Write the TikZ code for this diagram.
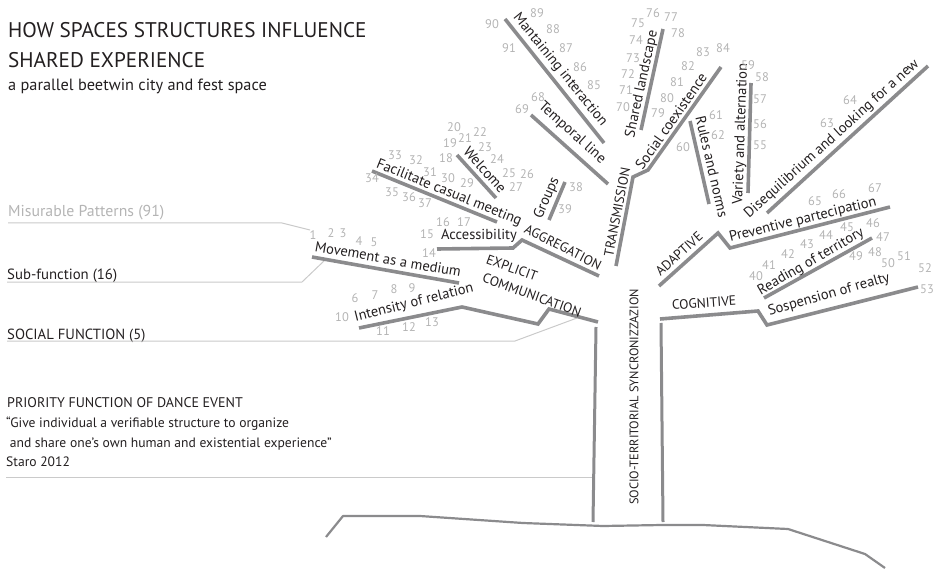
\documentclass[tikz,border=0pt]{standalone}
\usepackage{fontspec}
\setmainfont{PT Sans}
\definecolor{branchgray}{HTML}{8B8B8D}
\definecolor{leadgray}{HTML}{CACACA}
\definecolor{numgray}{HTML}{B4B4B4}
\definecolor{ink}{HTML}{231F20}
\newcommand{\fs}[1]{\fontsize{#1}{#1}\selectfont}
\tikzset{
  branch/.style={draw=branchgray, line width=3.6pt},
  trunkline/.style={draw=branchgray, line width=3pt},
  ground/.style={draw=branchgray, line width=2.2pt, line join=round},
  leader/.style={draw=leadgray, line width=1pt},
  lbl/.style={font=\fs{14.5}, text=ink, inner sep=0pt},
  fnlbl/.style={font=\fs{13.5}, text=ink, inner sep=0pt},
  num/.style={font=\fs{12.5}, text=numgray, inner sep=0pt},
  side/.style={anchor=base west, inner sep=0pt, text=ink},
}
\begin{document}
\begin{tikzpicture}[x=1pt, y=-1pt]
\useasboundingbox (0,0) rectangle (933,569);

% ---------- headings and legend ----------
\node[side, font=\fs{21.2}] (t1) at (8,38) {HOW SPACES STRUCTURES INFLUENCE};
\node[side, font=\fs{21.2}] (t2) at (8,68) {SHARED EXPERIENCE};
\node[side, font=\fs{16.3}] (t3) at (8,91) {a parallel beetwin city and fest space};
\node[side, font=\fs{15.8}, text=numgray] (lgA) at (8,217) {Misurable Patterns (91)};
\node[side, font=\fs{14.8}] (lgB) at (7,279) {Sub-function (16)};
\node[side, font=\fs{14.7}] (lgC) at (7,339) {SOCIAL FUNCTION (5)};
\node[side, font=\fs{14}] (pr1) at (7,407) {PRIORITY FUNCTION OF DANCE EVENT};
\node[side, font=\fs{13.6}] (pr2) at (6,427) {“Give individual a verifiable structure to organize};
\node[side, font=\fs{13.6}] (pr3) at (6,447) {\ and share one’s own human and existential experience”};
\node[side, font=\fs{13.6}] (pr4) at (6,466) {Staro 2012};

% ---------- key points of the tree ----------
\coordinate (tlT) at (596,327); \coordinate (tlB) at (593,522);
\coordinate (trT) at (661,323); \coordinate (trB) at (663,522);

\coordinate (e0) at (598,322); \coordinate (e1) at (549,309);
\coordinate (e2) at (538,324); \coordinate (e3) at (462,307);
\coordinate (e4) at (359,328);
\coordinate (m1) at (312,257); \coordinate (m2) at (459,283);

\coordinate (a0) at (599,276); \coordinate (a1) at (522,240);
\coordinate (a2) at (513,248); \coordinate (a3) at (437,249);
\coordinate (f1) at (372,171); \coordinate (f2) at (497,222);
\coordinate (w1) at (457,155); \coordinate (w2) at (496,198);
\coordinate (g1) at (565,182); \coordinate (g2) at (549,220);

\coordinate (s0) at (616,266); \coordinate (s1) at (633,177);
\coordinate (s2) at (648,170); \coordinate (s3) at (721,67);
\coordinate (tp1) at (531,115); \coordinate (tp2) at (608,184);
\coordinate (mi1) at (505,19); \coordinate (mi2) at (604,143);
\coordinate (sl1) at (663,29); \coordinate (sl2) at (641,130);

\coordinate (d0) at (659,286); \coordinate (d1) at (718,233);
\coordinate (d2) at (730,248); \coordinate (d3) at (890,207);
\coordinate (rn1) at (690,121); \coordinate (rn2) at (709,204);
\coordinate (va1) at (751,83); \coordinate (va2) at (748,193);
\coordinate (di1) at (767,213); \coordinate (di2) at (928,66);

\coordinate (c0) at (660,319); \coordinate (c1) at (758,311);
\coordinate (c2) at (767,325); \coordinate (c3) at (918,287);
\coordinate (rt1) at (764,298); \coordinate (rt2) at (872,238);

% ---------- legend leaders ----------
\draw[leader] (8,223) -- (282,223) -- (310,230);
\draw[leader] (7,282) -- (302,282) -- (325,260);
\draw[leader] (7,341) -- (515,341) -- (577,318);
\draw[leader] (6,477) -- (tlB |- 0,477);

% ---------- trunk and ground ----------
\draw[trunkline] (tlT) -- (tlB);
\draw[trunkline] (trT) -- (trB);
\draw[ground] (326,537) -- (343,516) -- (420,516) -- (523,523) -- (603,526)
  -- (662,525) -- (703,525) -- (788,529) -- (865,554) -- (885,568);

% ---------- branches ----------
\draw[branch] (e0) -- (e1) -- (e2) -- (e3) -- (e4);
\draw[branch] (m1) -- (m2);
\draw[branch] (a0) -- (a1) -- (a2) -- (a3);
\draw[branch] (f1) -- (f2);
\draw[branch] (w1) -- (w2);
\draw[branch] (g1) -- (g2);
\draw[branch] (s0) -- (s1) -- (s2) -- (s3);
\draw[branch] (tp1) -- (tp2);
\draw[branch] (mi1) -- (mi2);
\draw[branch] (sl1) -- (sl2);
\draw[branch] (d0) -- (d1) -- (d2) -- (d3);
\draw[branch] (rn1) -- (rn2);
\draw[branch] (va1) -- (va2);
\draw[branch] (di1) -- (di2);
\draw[branch] (c0) -- (c1) -- (c2) -- (c3);
\draw[branch] (rt1) -- (rt2);

% ---------- branch labels ----------
\node[fnlbl, rotate=90, font=\fs{12.4}] (socio) at (634,397) {SOCIO-TERRITORIAL SYNCRONIZZAZION};
\node[fnlbl, rotate=-20] (expl) at (512,268) {EXPLICIT};
\node[fnlbl, rotate=-20] (comm) at (532,295) {COMMUNICATION};
\node[fnlbl, rotate=-27] (aggr) at (563,247) {AGGREGATION};
\node[fnlbl, rotate=79] (trans) at (617,212) {TRANSMISSION};
\node[fnlbl, rotate=42] (adapt) at (679,254) {ADAPTIVE};
\node[fnlbl, rotate=4] (cogn) at (704,303) {COGNITIVE};

\node[lbl, rotate=-10] (mov) at (388,259) {Movement as a medium};
\node[lbl, rotate=14] (inten) at (414,303) {Intensity of relation};
\node[lbl] (acc) at (479,236) {Accessibility};
\node[lbl, rotate=-22] (faci) at (449,193) {Facilitate casual meeting};
\node[lbl, rotate=-48] (welc) at (485,170) {Welcome};
\node[lbl, rotate=66] (grp) at (547,198) {Groups};
\node[lbl, rotate=-42] (temp) at (572,133) {Temporal line};
\node[lbl, rotate=-51] (mant) at (560,70) {Mantaining interaction};
\node[lbl, rotate=55] (socx) at (671,121) {Social coexistence};
\node[lbl, rotate=77.7] (shl) at (642,84) {Shared landscape};
\node[lbl, rotate=-77] (rul) at (712,167) {Rules and norms};
\node[lbl, rotate=88] (var) at (741,134) {Variety and alternation};
\node[lbl, rotate=42] (dis) at (832,139) {Disequilibrium and looking for a new};
\node[lbl, rotate=14] (prev) at (803,220) {Preventive partecipation};
\node[lbl, rotate=30] (read) at (811,262) {Reading of territory};
\node[lbl, rotate=16] (sosp) at (829,295) {Sospension of realty};

% ---------- pattern numbers ----------
\foreach \k/\px/\py in {
  1/313/235, 2/331/233, 3/343/233, 4/359/241, 5/374/242,
  6/355/298, 7/375/295, 8/394/289, 9/412/288, 10/342/317,
  11/383/331, 12/409/327, 13/432/322,
  14/429/253, 15/427/234, 16/443/222, 17/464/222,
  18/446/158, 19/450/143, 20/454/127, 21/465/138, 22/480/132,
  23/485/147, 24/497/159, 25/509/173, 26/527/174, 27/516/187,
  29/467/183, 30/448/178, 31/430/172, 32/416/160, 33/395/155,
  34/372/178, 35/392/192, 36/409/197, 37/425/203,
  38/576/187, 39/565/209,
  40/756/276, 41/769/265, 42/788/254, 43/807/244, 44/826/235,
  45/847/227, 46/873/223, 47/883/237, 48/875/252, 49/856/256,
  50/888/263, 51/904/256, 52/925/268, 53/927/289,
  55/760/145, 56/760/124, 57/760/99, 58/762/77, 59/748/65,
  60/683/147, 61/716/115, 62/718/135, 63/827/123, 64/850/100,
  65/815/201, 66/839/194, 67/875/188,
  68/538/97, 69/522/109,
  70/623/107, 71/626/90, 72/628/74, 73/633/58, 74/636/40,
  75/638/23, 76/653/13, 77/671/17, 78/678/33,
  79/658/113, 80/667/98, 81/677/82, 82/688/66, 83/703/52, 84/723/48,
  85/594/85, 86/580/67, 87/566/48, 88/553/29, 89/537/13,
  90/492/24, 91/509/48}
  \node[num] (n\k) at (\px,\py) {\k};
\end{tikzpicture}
\end{document}
